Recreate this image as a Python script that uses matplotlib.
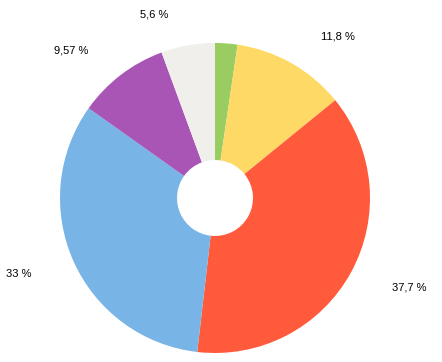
import numpy as np
import matplotlib.pyplot as plt

# slices clockwise from 12 o'clock
values = [2.33, 11.8, 37.7, 33.0, 9.57, 5.6]
labels = ['', '11,8 %', '37,7 %', '33 %', '9,57 %', '5,6 %']
colors = ['#9ACD61', '#FFD966', '#FF5A3C', '#78B4E6', '#A855B5', '#F0EFEB']

W, H = 442, 362
cx, cy, R = 215, 198, 155  # pie centre / radius in pixels

fig = plt.figure(figsize=(W / 100, H / 100), dpi=100)
ax = fig.add_axes([0, 0, 1, 1])

wedges, _ = ax.pie(values, colors=colors, startangle=90, counterclock=False,
                   radius=1.0,
                   wedgeprops=dict(width=0.755, linewidth=0))

# labels: vertical position on the mid-angle ray, text pushed sideways away from the pie
for w, lab in zip(wedges, labels):
    if not lab:
        continue
    a = np.deg2rad((w.theta1 + w.theta2) / 2)
    x, y = 1.2 * np.cos(a), 1.2 * np.sin(a)
    side = 1 if x > 0 else -1
    ax.text(x + 0.09 * side, y, lab, ha='left' if side > 0 else 'right', va='center',
            fontsize=8, family='Liberation Sans', color='black')

ax.set_aspect('auto')
ax.set_xlim(-cx / R, (W - cx) / R)
ax.set_ylim(-(H - cy) / R, cy / R)
ax.axis('off')

fig.savefig('out.png', dpi=100)
